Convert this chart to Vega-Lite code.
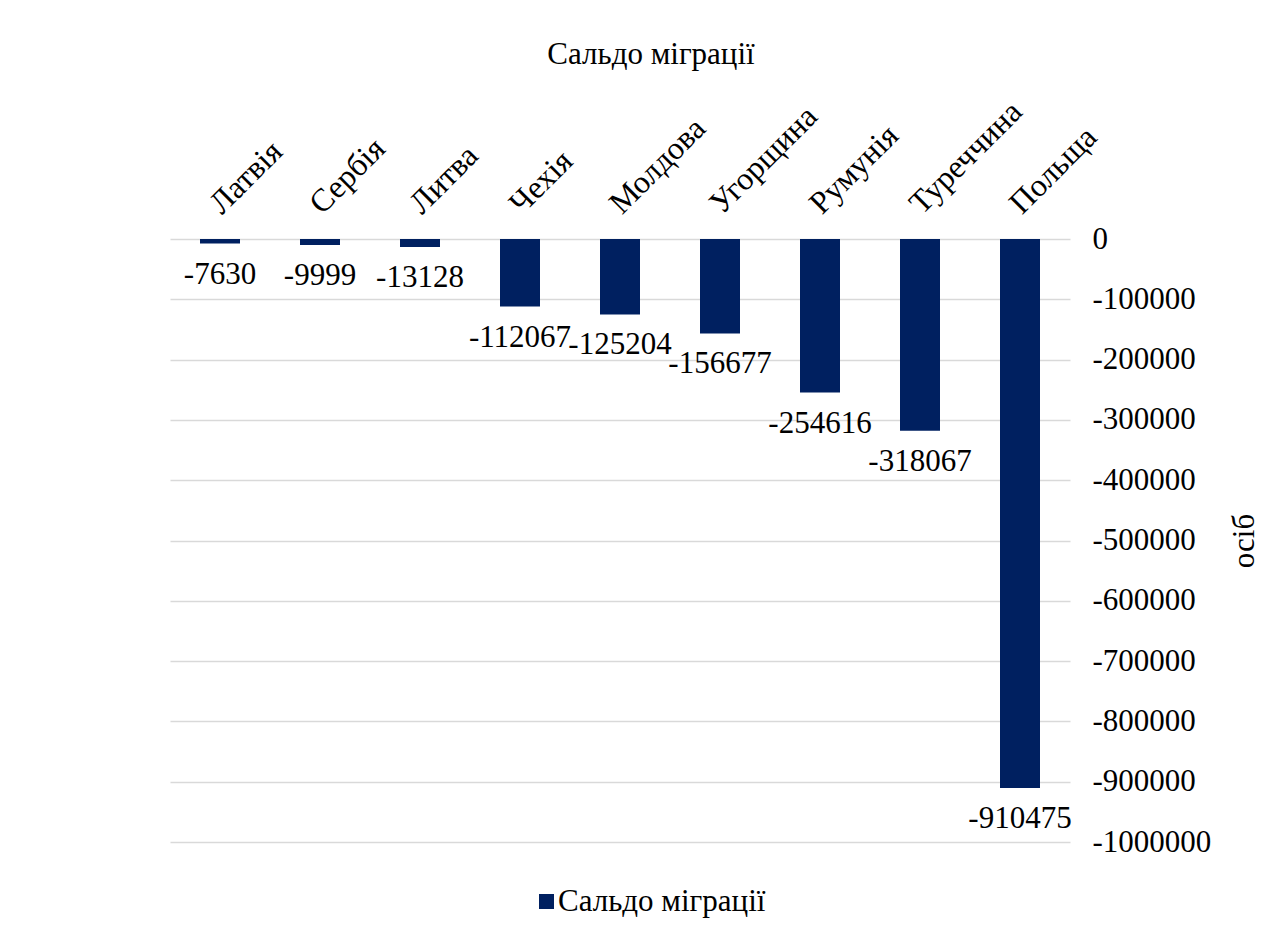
{
  "$schema": "https://vega.github.io/schema/vega-lite/v6.json",
  "width": 900,
  "height": 603,
  "autosize": {"type": "none"},
  "padding": {"left": 170, "top": 239, "right": 213, "bottom": 93},
  "background": "white",
  "title": {"text": "Сальдо міграції", "font": "Liberation Serif", "fontSize": 31, "fontWeight": "normal", "color": "#000000", "anchor": "middle", "offset": 24, "dx": 31},
  "data": {"values": [
    {"country": "Латвія", "value": -7630, "series": "Сальдо міграції"},
    {"country": "Сербія", "value": -9999, "series": "Сальдо міграції"},
    {"country": "Литва", "value": -13128, "series": "Сальдо міграції"},
    {"country": "Чехія", "value": -112067, "series": "Сальдо міграції"},
    {"country": "Молдова", "value": -125204, "series": "Сальдо міграції"},
    {"country": "Угорщина", "value": -156677, "series": "Сальдо міграції"},
    {"country": "Румунія", "value": -254616, "series": "Сальдо міграції"},
    {"country": "Туреччина", "value": -318067, "series": "Сальдо міграції"},
    {"country": "Польща", "value": -910475, "series": "Сальдо міграції"}
  ]},
  "encoding": {
    "x": {"field": "country", "type": "nominal", "sort": null,
      "scale": {"paddingInner": 0.6, "paddingOuter": 0.3},
      "axis": {"orient": "top", "title": null, "labelAngle": -45, "labelFont": "Liberation Serif", "labelFontSize": 32, "labelColor": "#000000", "domain": false, "ticks": false, "labelPadding": 19, "labelOffset": 7, "grid": false, "labelLimit": 300}},
    "y": {"field": "value", "type": "quantitative",
      "scale": {"domain": [-1000000, 0], "nice": false},
      "axis": {"orient": "right", "title": "осіб", "titleFont": "Liberation Serif", "titleFontSize": 31, "titleFontWeight": "normal", "titleColor": "#000000", "titlePadding": 50, "titleAngle": 270,
        "values": [0, -100000, -200000, -300000, -400000, -500000, -600000, -700000, -800000, -900000, -1000000],
        "format": "d", "labelFont": "Liberation Serif", "labelFontSize": 31, "labelColor": "#000000", "labelPadding": 22,
        "domain": false, "ticks": false, "grid": true, "gridColor": "#d9d9d9", "gridWidth": 1.5}}
  },
  "layer": [
    {"mark": {"type": "bar", "color": "#002060"},
     "encoding": {"color": {"field": "series", "type": "nominal", "scale": {"range": ["#002060"]},
       "legend": {"title": null, "orient": "none", "legendX": 361, "legendY": 647, "padding": 0, "symbolType": "square", "symbolSize": 225, "labelFont": "Liberation Serif", "labelFontSize": 31, "labelColor": "#000000", "symbolStrokeWidth": 0, "labelLimit": 400, "labelOffset": -4}}}},
    {"mark": {"type": "text", "baseline": "top", "dy": 16, "font": "Liberation Serif", "fontSize": 31, "color": "#000000"},
     "encoding": {"text": {"field": "value", "type": "quantitative", "format": "d"}}}
  ],
  "config": {
    "view": {"stroke": null},
    "locale": {"number": {"decimal": ".", "thousands": "", "grouping": [3], "currency": ["", ""], "minus": "-"}}
  }
}
